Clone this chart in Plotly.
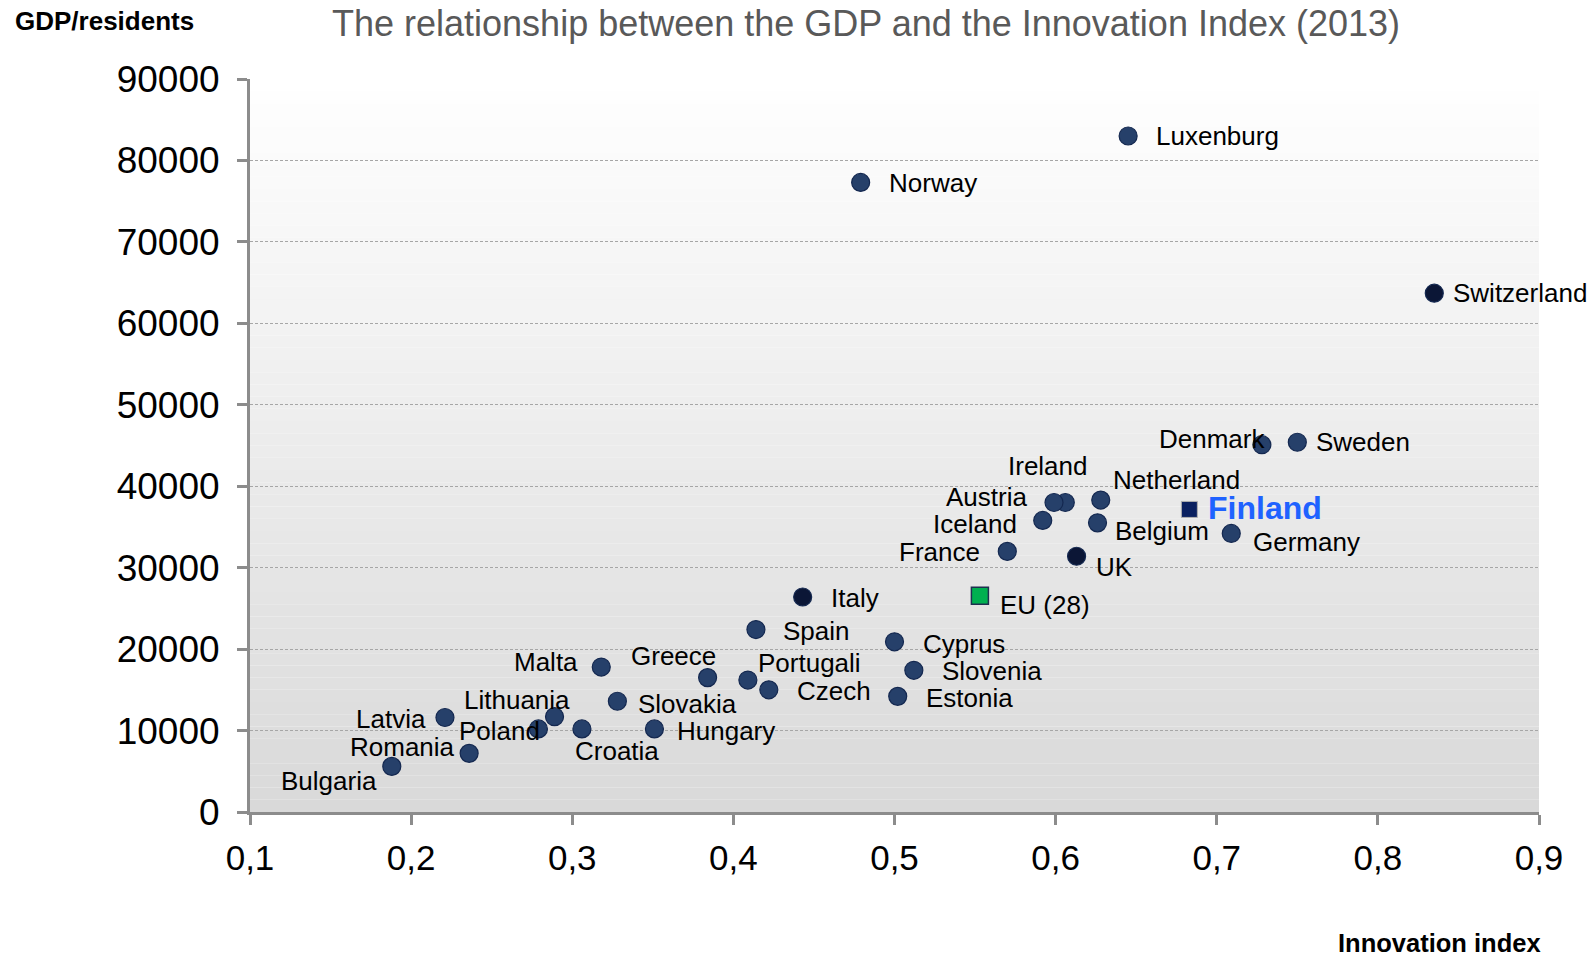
import plotly.graph_objects as go

# ---- data ----
countries = ["Luxenburg", "Norway", "Switzerland", "Denmark", "Sweden", "Ireland", "Austria",
             "Netherland", "Iceland", "Belgium", "Germany", "France", "UK", "Italy", "Spain",
             "Cyprus", "Slovenia", "Estonia", "Portugali", "Czech", "Greece", "Malta", "Slovakia",
             "Hungary", "Croatia", "Lithuania", "Poland", "Latvia", "Romania", "Bulgaria"]
innovation = [0.645, 0.479, 0.835, 0.728, 0.750, 0.606, 0.599,
              0.628, 0.592, 0.626, 0.709, 0.570, 0.613, 0.443, 0.414,
              0.500, 0.512, 0.502, 0.409, 0.422, 0.384, 0.318, 0.328,
              0.351, 0.306, 0.289, 0.279, 0.221, 0.236, 0.188]
gdp = [83000, 77300, 63700, 45100, 45400, 38000, 38000,
       38300, 35800, 35500, 34200, 32000, 31400, 26400, 22400,
       20900, 17400, 14200, 16200, 15000, 16500, 17800, 13600,
       10200, 10200, 11700, 10200, 11600, 7200, 5600]

finland_name = "Finland"
finland_x = [0.683]
finland_y = [37150]

eu_name = "EU (28)"
eu_x = [0.553]
eu_y = [26550]

x_tickvals = [0.1, 0.2, 0.3, 0.4, 0.5, 0.6, 0.7, 0.8, 0.9]
x_ticktext = ["0,1", "0,2", "0,3", "0,4", "0,5", "0,6", "0,7", "0,8", "0,9"]
y_tickvals = [0, 10000, 20000, 30000, 40000, 50000, 60000, 70000, 80000, 90000]
y_ticktext = ["0", "10000", "20000", "30000", "40000", "50000", "60000", "70000", "80000", "90000"]

title_text = "The relationship between the GDP and the Innovation Index (2013)"
y_title = "GDP/residents"
x_title = "Innovation index"

# ---- styling (label placement: anchor, pixel dx, pixel dy(down)) ----
label_pos = {
    "Luxenburg": ("left", 26, 0), "Norway": ("left", 26, 1), "Switzerland": ("left", 17, 0),
    "Denmark": ("right", 5, -6), "Sweden": ("left", 17, 0), "Ireland": ("center", -17, -37),
    "Austria": ("right", -25, -6), "Netherland": ("left", 10, -20), "Iceland": ("right", -24, 4),
    "Belgium": ("left", 15, 8), "Germany": ("left", 20, 9), "France": ("right", -25, 1),
    "UK": ("left", 17, 11), "Italy": ("left", 26, 1), "Spain": ("left", 25, 1),
    "Cyprus": ("left", 26, 2), "Slovenia": ("left", 26, 1), "Estonia": ("left", 26, 2),
    "Portugali": ("left", 8, -17), "Czech": ("left", 26, 1), "Greece": ("right", 10, -22),
    "Malta": ("right", -21, -5), "Slovakia": ("left", 19, 3), "Hungary": ("left", 21, 2),
    "Croatia": ("left", -9, 22), "Lithuania": ("right", 17, -17), "Poland": ("right", 4, 2),
    "Latvia": ("right", -17, 1), "Romania": ("right", -12, -6), "Bulgaria": ("right", -13, 15),
}
dark_ones = {"Switzerland", "Italy", "UK"}
FONT = "Arial, Liberation Sans, sans-serif"

marker_colors = ["#0B1636" if c in dark_ones else "#26406A" for c in countries]

fig = go.Figure()

# gradient background of plot area (white at top -> light gray at bottom)
n_steps = 60
shapes = []
for i in range(n_steps):
    t = (i + 0.5) / n_steps
    g = round(255 - (255 - 217) * t)
    shapes.append(dict(type="rect", xref="x domain", yref="y domain",
                       x0=0, x1=1, y0=1 - (i + 1) / n_steps, y1=1 - i / n_steps,
                       fillcolor=f"rgb({g},{g},{g})", line=dict(width=0), layer="below"))

fig.add_trace(go.Scatter(
    x=innovation, y=gdp, mode="markers", hoverinfo="text", text=countries,
    marker=dict(size=18, color=marker_colors, line=dict(color="#142850", width=1.2)),
    showlegend=False))
fig.add_trace(go.Scatter(
    x=finland_x, y=finland_y, mode="markers", hoverinfo="text", text=[finland_name],
    marker=dict(symbol="square", size=16, color="#0A2060", line=dict(color="#B0B0B0", width=1)),
    showlegend=False))
fig.add_trace(go.Scatter(
    x=eu_x, y=eu_y, mode="markers", hoverinfo="text", text=[eu_name],
    marker=dict(symbol="square", size=17, color="#00B050", line=dict(color="#1F3050", width=1.5)),
    showlegend=False))

annotations = []
for c, xv, yv in zip(countries, innovation, gdp):
    anchor, dx, dy = label_pos[c]
    annotations.append(dict(x=xv, y=yv, xref="x", yref="y", text=c, showarrow=False,
                            xanchor=anchor, yanchor="middle", xshift=dx, yshift=-dy,
                            font=dict(family=FONT, size=26, color="#000000")))
annotations.append(dict(x=finland_x[0], y=finland_y[0], xref="x", yref="y", text="<b>" + finland_name + "</b>",
                        showarrow=False, xanchor="left", yanchor="middle", xshift=17, yshift=1,
                        font=dict(family=FONT, size=32, color="#1F62FF")))
annotations.append(dict(x=eu_x[0], y=eu_y[0], xref="x", yref="y", text=eu_name,
                        showarrow=False, xanchor="left", yanchor="middle", xshift=18, yshift=-9,
                        font=dict(family=FONT, size=26, color="#000000")))

# page pixel positions (the page body margin is removed below, so the figure fills the window)
page_texts = [
    (13, 21, "<b>" + y_title + "</b>", "left", 26, "#000000"),
    (1543, 943, "<b>" + x_title + "</b>", "right", 25.5, "#000000"),
    (866, 24, title_text, "center", 36, "#595959"),
]

W, H = 1595, 960
plot_left, plot_right, plot_top, plot_bottom = 250, 1539, 79, 812
ml = plot_left
mt = plot_top
mr = W - plot_right
mb = H - plot_bottom
pw, ph = plot_right - plot_left, plot_bottom - plot_top

for px, py, txt, anc, sz, col in page_texts:
    annotations.append(dict(x=(px - plot_left) / pw, y=(plot_bottom - py) / ph,
                            xref="paper", yref="paper", text=txt, showarrow=False,
                            xanchor=anc, yanchor="middle",
                            font=dict(family=FONT, size=sz, color=col)))

fig.update_layout(
    width=W, height=H,
    margin=dict(l=ml, r=mr, t=mt, b=mb, autoexpand=False),
    paper_bgcolor="white", plot_bgcolor="white",
    shapes=shapes, annotations=annotations,
    font=dict(family=FONT, color="#000000"),
)
fig.update_xaxes(range=[0.1, 0.9], tickvals=x_tickvals, ticktext=x_ticktext,
                 showgrid=False, zeroline=False, showline=True, linecolor="#8C8C8C", linewidth=3,
                 ticks="outside", ticklen=10, tickwidth=3, tickcolor="#8C8C8C",
                 ticklabelstandoff=3, tickfont=dict(family=FONT, size=35, color="#000000"))
fig.update_yaxes(range=[0, 90000], tickvals=y_tickvals, ticktext=y_ticktext,
                 showgrid=True, gridcolor="#A6A6A6", gridwidth=1, griddash="3px,2px",
                 zeroline=False, showline=True, linecolor="#8C8C8C", linewidth=3,
                 ticks="outside", ticklen=10, tickwidth=3, tickcolor="#8C8C8C",
                 ticklabelstandoff=10, tickfont=dict(family=FONT, size=37, color="#000000"))

fig.write_html("out.html", config={"displayModeBar": False},
               post_script="document.body.style.margin='0px';document.body.style.overflow='hidden';")
